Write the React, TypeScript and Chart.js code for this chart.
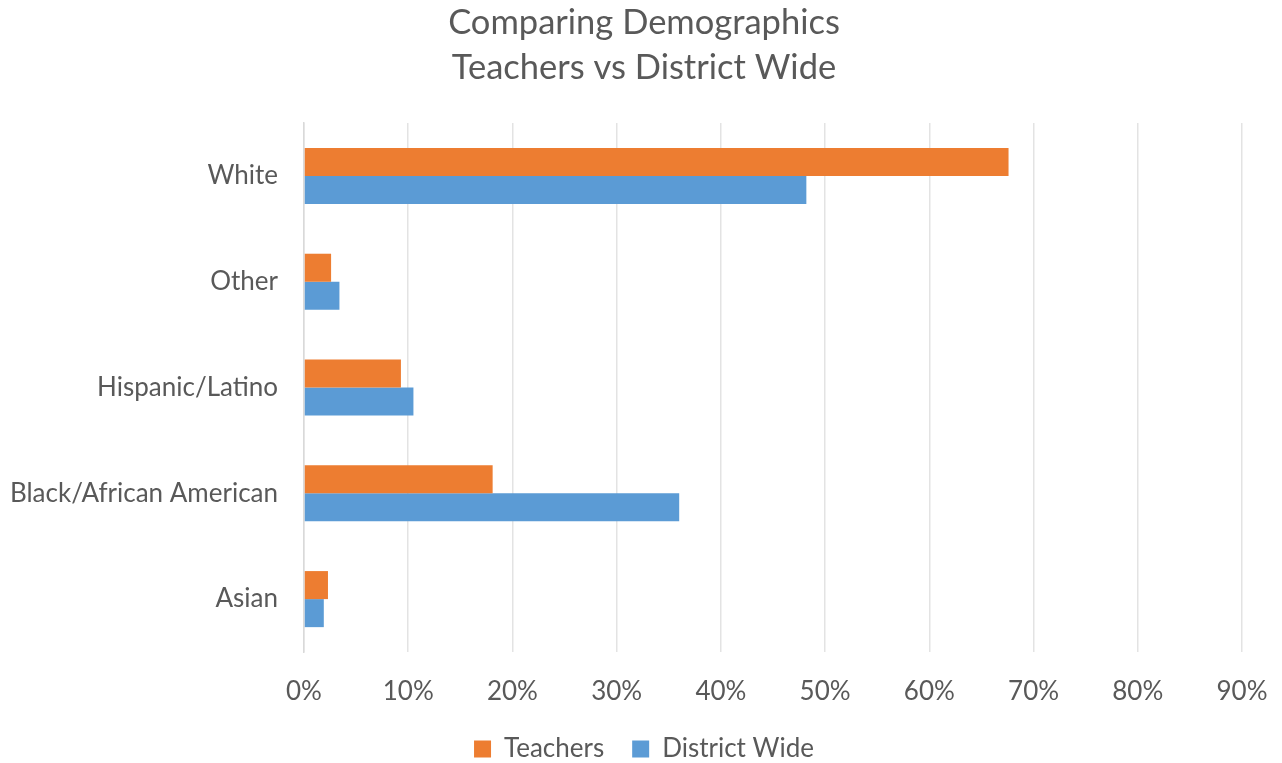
import React, { useEffect, useRef } from "react";
import { Chart, registerables } from "chart.js";

Chart.register(...registerables);

const categories = ["White", "Other", "Hispanic/Latino", "Black/African American", "Asian"];
const teachers = [67.6, 2.6, 9.3, 18.1, 2.3];
const districtWide = [48.2, 3.4, 10.5, 36.0, 1.9];
const titleLines = ["Comparing Demographics", "Teachers vs District Wide"];

const TEXT = "#595959";
const FONT = "Lato, 'Open Sans', sans-serif";
const PAD_LEFT = 6;
const PAD_RIGHT = 0;

export default function App() {
  const ref = useRef<HTMLCanvasElement | null>(null);

  useEffect(() => {
    document.body.style.margin = "0";
    const canvas = ref.current;
    if (!canvas) return;
    const chart = new Chart(canvas, {
      type: "bar",
      data: {
        labels: categories,
        datasets: [
          {
            label: "Teachers",
            data: teachers,
            backgroundColor: "#ED7D31",
            borderWidth: 0,
          },
          {
            label: "District Wide",
            data: districtWide,
            backgroundColor: "#5B9BD5",
            borderWidth: 0,
          },
        ],
      },
      options: {
        indexAxis: "y",
        animation: false,
        responsive: false,
        maintainAspectRatio: false,
        layout: { padding: { left: PAD_LEFT, right: PAD_RIGHT, top: 0, bottom: -9 } },
        datasets: {
          bar: { categoryPercentage: 0.53, barPercentage: 1 },
        },
        scales: {
          x: {
            min: 0,
            max: 90,
            ticks: {
              stepSize: 10,
              color: TEXT,
              font: { family: FONT, size: 26 },
              padding: 24,
              callback: (v) => `${v}%`,
            },
            grid: { color: "#e3e3e3", lineWidth: 1.5, drawTicks: false },
            border: { display: false },
            afterFit: (scale) => {
              scale.height = 56;
              scale.paddingLeft = 0;
              scale.paddingRight = 40;
            },
          },
          y: {
            ticks: {
              color: TEXT,
              font: { family: FONT, size: 26 },
              padding: 26,
            },
            grid: { display: false, drawTicks: false },
            border: { display: true, color: "#d9d9d9", width: 1.5 },
            afterFit: (scale) => {
              scale.width = 304 - PAD_LEFT;
            },
          },
        },
        plugins: {
          title: {
            display: true,
            text: titleLines,
            color: TEXT,
            font: { family: FONT, size: 34.5, weight: "normal", lineHeight: 1.32 },
            padding: { top: 0, bottom: 32 },
          },
          legend: {
            position: "bottom",
            labels: {
              color: TEXT,
              font: { family: FONT, size: 26 },
              boxWidth: 17,
              boxHeight: 17,
              padding: 28,
            },
          },
          tooltip: { enabled: false },
        },
      },
    });
    return () => chart.destroy();
  }, []);

  return (
    <div style={{ width: 1282, height: 763, background: "#fff" }}>
      <canvas ref={ref} width={1282} height={763} style={{ display: "block" }} />
    </div>
  );
}
